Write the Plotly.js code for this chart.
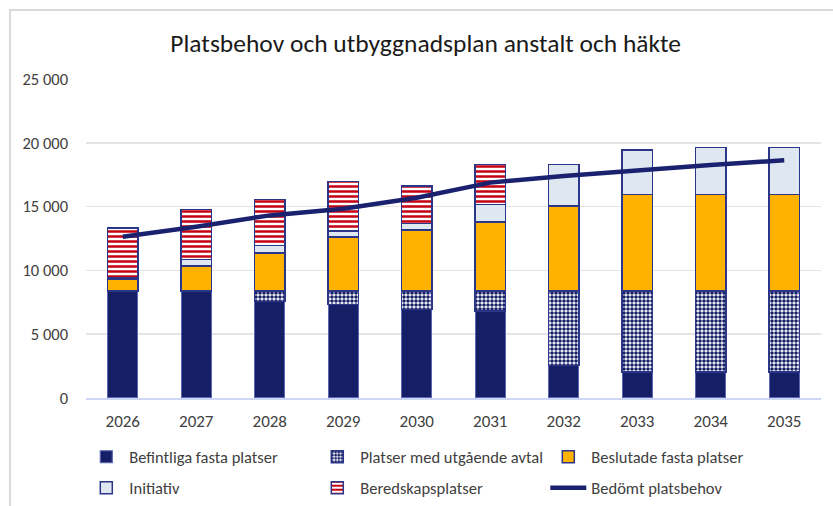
<!DOCTYPE html>
<html>
<head>
<meta charset="utf-8">
<script src="https://cdn.plot.ly/plotly-3.0.1.min.js"></script>
<style>
  html, body { margin: 0; padding: 0; background: #ffffff; overflow: hidden; }
  #frame { position: absolute; left: 9px; top: 9px; width: 900px; height: 600px;
           border-left: 2px solid #d9d9d9; border-top: 2px solid #d9d9d9; z-index: 0; }
  #chart { position: absolute; left: 0; top: 0; width: 833px; height: 506px; z-index: 1; }
</style>
</head>
<body>
<div id="frame"></div>
<div id="chart"></div>
<script>
const years = ['2026','2027','2028','2029','2030','2031','2032','2033','2034','2035'];
const befintliga = [8400, 8400, 7580, 7320, 6930, 6800, 2560, 2040, 2040, 2040];
const utgaende   = [0, 0, 800, 1060, 1450, 1580, 5820, 6340, 6340, 6340];
const beslutade  = [940, 1930, 3000, 4220, 4780, 5400, 6660, 7580, 7580, 7580];
const initiativ  = [100, 530, 570, 480, 500, 1390, 3270, 3470, 3660, 3660];
const beredskap  = [3900, 3920, 3610, 3870, 2950, 3140, 0, 0, 0, 0];
const platsbehov = [12640, 13420, 14310, 14830, 15700, 16880, 17400, 17840, 18260, 18630];

const FONT = "Carlito, 'Liberation Sans Narrow', 'Open Sans', sans-serif";
const NAVY = '#161f66';
const OUT = '#2b3688';

function bar(name, y, marker, legend) {
  return { type: 'bar', name: name, x: years, y: y, legend: legend,
           marker: Object.assign({ line: { color: OUT, width: 1.5 } }, marker),
           hoverinfo: 'name+y' };
}

const data = [
  bar('Befintliga fasta platser', befintliga, { color: NAVY, line: { color: '#5a67b5', width: 1.2 } }, 'legend'),
  bar('Platser med utgående avtal', utgaende, { color: '#ffffff',
      pattern: { shape: '.', fgcolor: NAVY, bgcolor: '#ffffff', size: 4, solidity: 0.62, fillmode: 'replace' } }, 'legend'),
  bar('Beslutade fasta platser', beslutade, { color: '#ffb300' }, 'legend'),
  bar('Initiativ', initiativ, { color: '#dfe8f0' }, 'legend2'),
  bar('Beredskapsplatser', beredskap, { color: '#ffffff',
      pattern: { shape: '-', fgcolor: '#c40012', bgcolor: '#ffffff', size: 5, solidity: 0.5, fillmode: 'replace' } }, 'legend2'),
  { type: 'scatter', mode: 'lines', name: 'Bedömt platsbehov', x: years, y: platsbehov,
    line: { color: '#1a2270', width: 4.5 }, legend: 'legend2' }
];

const legendCommon = {
  orientation: 'h', traceorder: 'normal', entrywidth: 180, entrywidthmode: 'pixels',
  xref: 'container', yref: 'container', x: 0.1, xanchor: 'left', yanchor: 'middle',
  font: { family: FONT, size: 16.5, color: '#404040' }, bgcolor: 'rgba(0,0,0,0)', itemwidth: 36
};

const layout = {
  width: 833, height: 506,
  margin: { l: 86, r: 12, t: 79, b: 108 },
  paper_bgcolor: 'rgba(0,0,0,0)', plot_bgcolor: 'rgba(0,0,0,0)',
  separators: ', ',
  barmode: 'stack', bargap: 0.59,
  font: { family: FONT, color: '#404040' },
  title: { text: 'Platsbehov och utbyggnadsplan anstalt och häkte',
           font: { family: FONT, size: 25.5, color: '#1a1a1a' },
           xref: 'container', yref: 'container', x: 0.511, xanchor: 'center', y: 1 - 43/506, yanchor: 'middle' },
  xaxis: { type: 'category', showline: true, linecolor: '#cdd6f4', linewidth: 1.5,
           showgrid: false, tickfont: { family: FONT, size: 17, color: '#404040' },
           ticks: '', ticklabelstandoff: 7 },
  yaxis: { range: [0, 25000], dtick: 5000, tick0: 0, tickformat: ',d', separatethousands: true,
           showgrid: true, gridcolor: '#e4e4e4', gridwidth: 1.5, zeroline: false, showline: false,
           tickfont: { family: FONT, size: 16.5, color: '#404040' }, ticks: '', ticklabelstandoff: 17 },
  legend: Object.assign({}, legendCommon, { y: 1 - 457/506 }),
  legend2: Object.assign({}, legendCommon, { y: 1 - 488/506 }),
  showlegend: true
};

Plotly.newPlot('chart', data, layout, { displayModeBar: false, staticPlot: true });
</script>
</body>
</html>
